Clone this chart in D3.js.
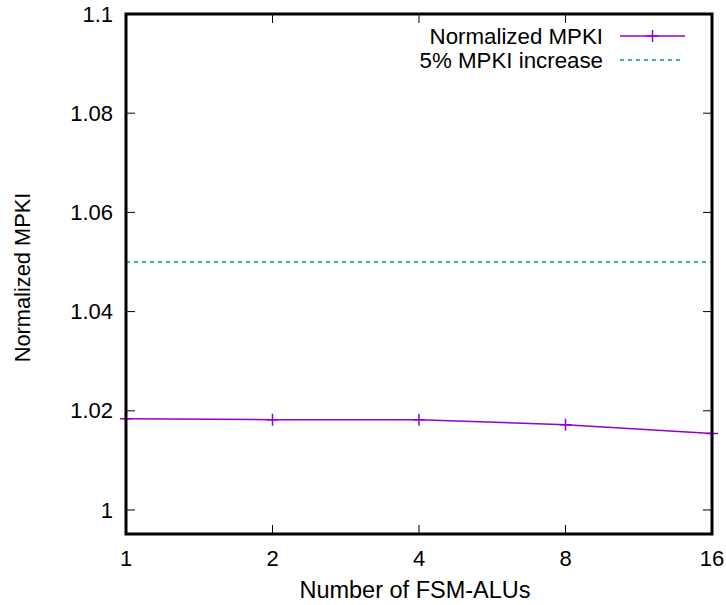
<!DOCTYPE html>
<html><head><meta charset="utf-8">
<script src="https://cdn.jsdelivr.net/npm/d3@7"></script>
<style>body{margin:0;background:#fff}svg{display:block}text{font-family:"Liberation Sans",Arial,sans-serif;}</style>
</head><body>
<svg id="c" width="726" height="605"></svg>
<script>
const categories = [1, 2, 4, 8, 16];
const mpkiValues = [1.0184, 1.0182, 1.0182, 1.0172, 1.0154];
const thresholdValue = 1.05;
const yTicks = [1, 1.02, 1.04, 1.06, 1.08, 1.1];
const yTickLabels = ["1", "1.02", "1.04", "1.06", "1.08", "1.1"];
const seriesNames = ["Normalized MPKI", "5% MPKI increase"];

const svg = d3.select("#c");
const L = 126, R = 712, T = 14, B = 534;
const x = d3.scaleLog().base(2).domain([1, 16]).range([L, R]);
const y = d3.scaleLinear().domain([0.99516, 1.1]).range([B, T]);
const fs = 22;

// y ticks
const tl = 9;
yTicks.forEach((v, i) => {
  svg.append("line").attr("x1", L).attr("x2", L + tl).attr("y1", y(v)).attr("y2", y(v)).attr("stroke", "#000").attr("stroke-width", 1);
  svg.append("line").attr("x1", R).attr("x2", R - tl).attr("y1", y(v)).attr("y2", y(v)).attr("stroke", "#000").attr("stroke-width", 1);
  svg.append("text").attr("x", L - 13).attr("y", y(v)).attr("dy", "0.35em").attr("text-anchor", "end").attr("font-size", fs).text(yTickLabels[i]);
});
categories.forEach(c => {
  svg.append("line").attr("x1", x(c)).attr("x2", x(c)).attr("y1", B).attr("y2", B - tl).attr("stroke", "#000").attr("stroke-width", 1);
  svg.append("line").attr("x1", x(c)).attr("x2", x(c)).attr("y1", T).attr("y2", T + tl).attr("stroke", "#000").attr("stroke-width", 1);
  svg.append("text").attr("x", x(c)).attr("y", 566).attr("text-anchor", "middle").attr("font-size", fs).text(c);
});

// threshold
svg.append("line").attr("x1", L).attr("x2", R).attr("y1", y(thresholdValue)).attr("y2", y(thresholdValue))
  .attr("stroke", "#009e73").attr("stroke-width", 1.5).attr("stroke-dasharray", "4,4");

// series
const pts = categories.map((c, i) => [x(c), y(mpkiValues[i])]);
svg.append("path").attr("d", d3.line()(pts)).attr("fill", "none").attr("stroke", "#9400d3").attr("stroke-width", 1.5);
const ms = 6;
pts.forEach(p => {
  svg.append("path").attr("d", `M${p[0]-ms},${p[1]}H${p[0]+ms}M${p[0]},${p[1]-ms}V${p[1]+ms}`).attr("stroke", "#9400d3").attr("stroke-width", 1.5);
});

// frame
svg.append("rect").attr("x", L).attr("y", T).attr("width", R - L).attr("height", B - T).attr("fill", "none").attr("stroke", "#000").attr("stroke-width", 3);

// legend
const lx = 603;
svg.append("text").attr("x", lx).attr("y", 44).attr("text-anchor", "end").attr("font-size", 22.3).text(seriesNames[0]);
svg.append("text").attr("x", lx).attr("y", 68).attr("text-anchor", "end").attr("font-size", 22.3).text(seriesNames[1]);
svg.append("line").attr("x1", 620).attr("x2", 685).attr("y1", 36).attr("y2", 36).attr("stroke", "#9400d3").attr("stroke-width", 1.5);
svg.append("path").attr("d", `M${652.5-ms},36H${652.5+ms}M652.5,${36-ms}V${36+ms}`).attr("stroke", "#9400d3").attr("stroke-width", 1.5);
svg.append("line").attr("x1", 620).attr("x2", 682).attr("y1", 60).attr("y2", 60).attr("stroke", "#009e73").attr("stroke-width", 1.5).attr("stroke-dasharray", "4,4");

// titles
svg.append("text").attr("x", 415).attr("y", 598).attr("text-anchor", "middle").attr("font-size", 23.5).text("Number of FSM-ALUs");
svg.append("text").attr("transform", `translate(30,277.5) rotate(-90)`).attr("text-anchor", "middle").attr("font-size", 21.8).text("Normalized MPKI");
</script>
</body></html>
